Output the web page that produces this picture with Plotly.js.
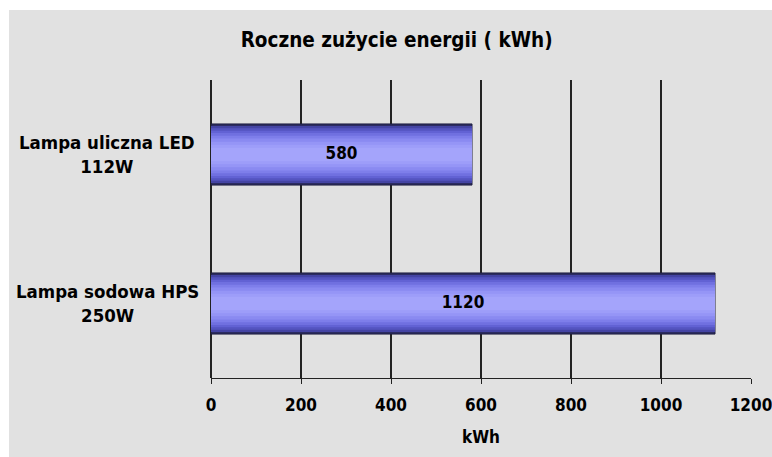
<!DOCTYPE html>
<html>
<head>
<meta charset="utf-8">
<script src="https://cdn.plot.ly/plotly-3.0.1.min.js"></script>
<style>
html,body{margin:0;padding:0;background:#ffffff;width:772px;height:457px;overflow:hidden;}
#chart{position:absolute;left:9px;top:10px;width:763px;height:447px;}
</style>
</head>
<body>
<div id="chart"></div>
<script>
const categories = ['Lampa uliczna LED<br>112W', 'Lampa sodowa HPS<br>250W'];
const values = [580, 1120];
const xTicks = [0, 200, 400, 600, 800, 1000, 1200];
const chartTitle = 'Roczne zużycie energii ( kWh)';
const xTitle = 'kWh';

const FONT = '"DejaVu Sans Condensed", "Liberation Sans", sans-serif';
const fullWidth = 0.41;
const layerFractions = [1, 0.93, 0.86, 0.78, 0.70, 0.61, 0.52, 0.42, 0.32, 0.22];
const layerColors = ['#2c2c62', '#4444a4', '#5454c0', '#6262d4', '#7070e0', '#7e7eea', '#8a8af1', '#9595f6', '#9d9df9', '#a4a4fb'];

const traces = layerFractions.map((f, i) => ({
  type: 'bar',
  orientation: 'h',
  x: values,
  y: categories,
  width: categories.map(() => fullWidth * f),
  marker: {
    color: layerColors[i],
    line: {width: i === 0 ? 1 : 0, color: '#1e1e40'}
  },
  hoverinfo: 'skip',
  showlegend: false
}));

traces.push({
  type: 'scatter',
  mode: 'text',
  x: values.map(v => v / 2),
  y: categories,
  text: values.map(v => String(v)),
  textposition: 'middle center',
  textfont: {family: FONT, size: 17, color: '#000000', weight: 'bold'},
  hoverinfo: 'skip',
  showlegend: false
});

const annotations = categories.map(c => ({
  text: c,
  xref: 'paper', yref: 'y',
  x: -0.192, y: c,
  xanchor: 'center', yanchor: 'middle',
  align: 'center',
  showarrow: false,
  font: {family: FONT, size: 18.5, color: '#000000', weight: 'bold'}
}));

const layout = {
  width: 763, height: 447,
  paper_bgcolor: '#e1e1e1',
  plot_bgcolor: '#e1e1e1',
  margin: {l: 202, r: 21, t: 70, b: 79},
  barmode: 'overlay',
  title: {
    text: chartTitle,
    font: {family: FONT, size: 20.5, color: '#000000', weight: 'bold'},
    x: 0.508, xref: 'container', xanchor: 'center',
    y: 0.933, yref: 'container', yanchor: 'middle'
  },
  xaxis: {
    range: [0, 1200],
    tickvals: xTicks,
    ticktext: xTicks.map(String),
    showgrid: true, gridcolor: '#222222', gridwidth: 1.3,
    zeroline: true, zerolinecolor: '#222222', zerolinewidth: 1.3,
    showline: true, linecolor: '#222222', linewidth: 1.3,
    ticks: 'outside', ticklen: 5, tickcolor: '#222222',
    ticklabelstandoff: 6,
    ticklabeloverflow: 'allow',
    tickfont: {family: FONT, size: 17, color: '#000000', weight: 'bold'},
    title: {text: xTitle, standoff: 17, font: {family: FONT, size: 17, color: '#000000', weight: 'bold'}},
    fixedrange: true
  },
  yaxis: {
    type: 'category',
    categoryorder: 'array',
    categoryarray: categories,
    autorange: 'reversed',
    showgrid: false, zeroline: false, showline: false,
    showticklabels: false, ticks: '',
    fixedrange: true
  },
  annotations: annotations
};

Plotly.newPlot('chart', traces, layout, {displayModeBar: false, staticPlot: true});
</script>
</body>
</html>
